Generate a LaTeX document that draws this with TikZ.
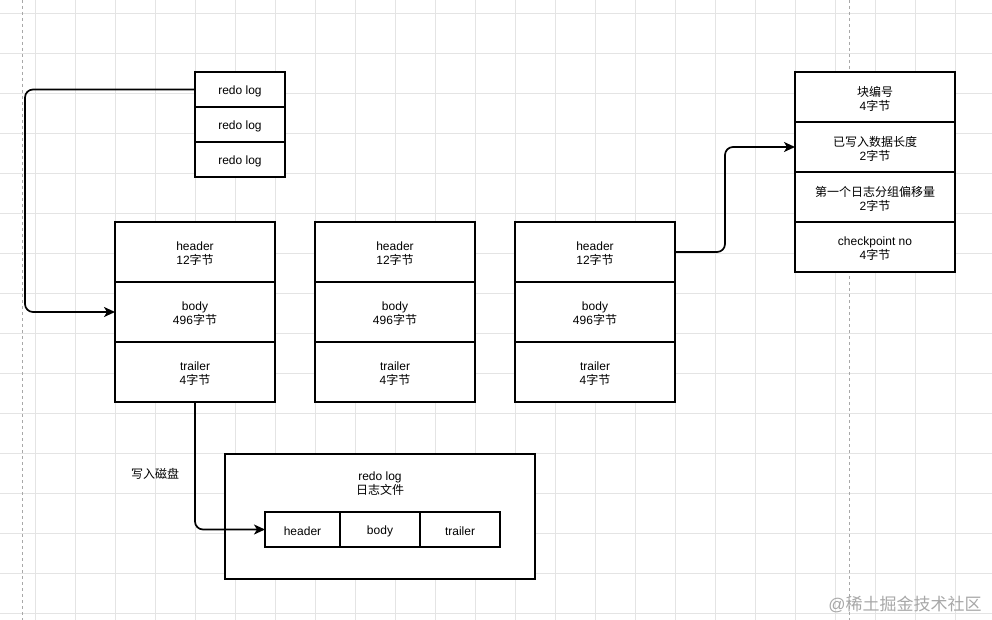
\documentclass[tikz,border=0pt]{standalone}
\usepackage{fontspec}
\setmainfont{Liberation Sans}
\newfontfamily\cjk{Noto Sans CJK SC}
\usetikzlibrary{arrows.meta}
\newcommand{\zh}[1]{{\cjk #1}}
\definecolor{gridc}{HTML}{E4E4E4}
\definecolor{pagec}{HTML}{A8A8A8}
\definecolor{wmark}{HTML}{A8A8A8}
\newcommand{\cellnode}[5]{%
  \node[cell, minimum width=#2, minimum height=#3] (#1) at #4 {};
  \node[txt] (#1t) at ([yshift=-2pt]#1.center) {#5};}
\begin{document}
\begin{tikzpicture}[x=1pt,y=-1pt,
  cell/.style={draw=black, line width=1.7pt, fill=white, inner sep=0pt, outer sep=0pt},
  conn/.style={draw=black, line width=1.7pt, rounded corners=8pt, -{Stealth[length=11pt,width=10pt,inset=3pt]}},
  txt/.style={inner sep=0pt, align=center, font=\fontsize{12}{14}\selectfont}]
\useasboundingbox (0,0) rectangle (992,620);
\fill[white] (0,0) rectangle (992,620);
% grid
\foreach \x in {35,75,...,995} \draw[gridc, line width=0.8pt] (\x,0) -- (\x,620);
\foreach \y in {13,53,...,620} \draw[gridc, line width=0.8pt] (0,\y) -- (992,\y);
% page break lines
\draw[pagec, line width=0.8pt, dash pattern=on 3pt off 3pt] (22.5,0) -- (22.5,620);
\draw[pagec, line width=0.8pt, dash pattern=on 3pt off 3pt] (849,0) -- (849,620);

% redo log stack
\cellnode{r1}{90pt}{35pt}{(240,89.5)}{redo log}
\cellnode{r2}{90pt}{35pt}{(240,124.5)}{redo log}
\cellnode{r3}{90pt}{35pt}{(240,159.5)}{redo log}

% blocks
\foreach \cx/\n in {195/1,395/2,595/3}{
  \cellnode{h\n}{160pt}{60pt}{(\cx,252)}{header\\12\zh{字节}}
  \cellnode{b\n}{160pt}{60pt}{(\cx,312)}{body\\496\zh{字节}}
  \cellnode{t\n}{160pt}{60pt}{(\cx,372)}{trailer\\4\zh{字节}}
}

% header detail
\cellnode{k1}{160pt}{50pt}{(875,97)}{\zh{块编号}\\4\zh{字节}}
\cellnode{k2}{160pt}{50pt}{(875,147)}{\zh{已写入数据长度}\\2\zh{字节}}
\cellnode{k3}{160pt}{50pt}{(875,197)}{\zh{第一个日志分组偏移量}\\2\zh{字节}}
\cellnode{k4}{160pt}{50pt}{(875,247)}{checkpoint no\\4\zh{字节}}

% log file
\node[cell, minimum width=310pt, minimum height=125pt] (file) at (380,516.5) {};
\node[txt] (filelabel) at (380,484) {redo log\\\zh{日志文件}};
\cellnode{fh}{75pt}{35pt}{(302.5,529.5)}{header}
\cellnode{fb}{80pt}{35pt}{(380,529.5)}{body}
\cellnode{ft}{80pt}{35pt}{(460,529.5)}{trailer}

\node[txt] (write) at (155,474) {\zh{写入磁盘}};

% connectors
\draw[conn] (r1.west) -- ++(-170,0) |- (b1.west);
\draw[conn] (h3.east) -- ++(50,0) |- (k2.west);
\draw[conn] (t1.south) |- (fh.west);

% watermark
\node[inner sep=0pt, text=wmark, font=\fontsize{17}{19}\selectfont] (wm) at (905,604) {@\zh{稀土掘金技术社区}};
\end{tikzpicture}
\end{document}
